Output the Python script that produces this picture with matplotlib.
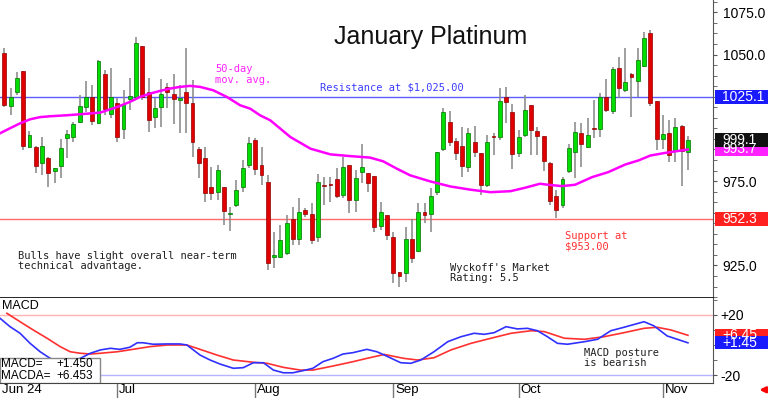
import matplotlib
matplotlib.use("Agg")
import matplotlib.pyplot as plt
import matplotlib.transforms as mtransforms
from matplotlib.patches import Rectangle
from matplotlib.ticker import MultipleLocator
import numpy as np

plt.rcParams['font.family'] = ['Liberation Sans', 'DejaVu Sans']

# daily candles, Jun 2024 -> early Nov 2024
opens = [1050.7, 1019.3, 1027.6, 1040.0, 995.0, 995.0, 985.5, 988.5, 980.8, 983.7,
         1000.3, 1001.0, 1009.8, 1018.7, 1024.6, 1009.2, 1038.3, 1014.6, 1021.1, 1005.7,
         1023.5, 1024.6, 1054.9, 1027.6, 1012.8, 1018.7, 1030.6, 1026.4, 1022.9, 1027.6,
         1021.1, 993.8, 988.5, 971.3, 968.3, 971.3, 955.3, 960.6, 971.3, 984.3,
         999.1, 984.3, 974.3, 929.8, 929.8, 932.2, 952.3, 940.5, 957.7, 955.3,
         941.7, 972.6, 973.2, 976.0, 966.5, 984.3, 963.6, 980.2, 979.6, 977.8,
         948.2, 954.7, 941.7, 920.9, 920.3, 940.5, 933.4, 956.5, 955.3, 968.3,
         993.8, 1009.8, 998.6, 995.6, 983.2, 998.0, 991.4, 972.5, 1001.4, 1001.0,
         1024.6, 1015.7, 991.4, 1002.1, 1019.9, 1004.5, 1001.5, 985.5, 966.0, 960.6,
         980.8, 992.0, 1003.3, 995.0, 1006.0, 1005.7, 1024.6, 1016.3, 1041.8, 1028.8,
         1038.3, 1034.2, 1043.0, 1062.6, 1022.3, 999.7, 1003.3, 992.6, 1007.4, 992.0]
highs = [1053.7, 1030.0, 1039.4, 1040.5, 1004.5, 995.5, 1001.0, 989.0, 983.0, 999.7,
         1005.0, 1009.8, 1025.8, 1034.1, 1031.7, 1046.6, 1040.6, 1041.8, 1024.0, 1028.8,
         1035.9, 1060.2, 1055.2, 1035.9, 1024.0, 1035.3, 1032.9, 1038.3, 1031.7, 1053.7,
         1034.7, 995.0, 995.0, 983.2, 984.3, 971.5, 959.4, 975.4, 987.3, 1000.9,
         1000.3, 995.0, 978.4, 944.6, 948.8, 954.7, 959.4, 964.8, 958.9, 961.8,
         979.0, 977.4, 977.4, 982.5, 989.3, 984.5, 981.4, 996.8, 979.8, 978.0,
         962.4, 954.9, 944.6, 921.0, 947.6, 952.3, 961.8, 961.8, 970.7, 992.3,
         1018.1, 1016.3, 1000.3, 1006.8, 1006.2, 1007.4, 991.5, 1002.5, 1003.3, 1030.0,
         1030.6, 1020.5, 1005.0, 1025.8, 1020.2, 1007.0, 1001.6, 986.3, 969.5, 977.4,
         996.8, 1010.0, 1009.2, 1012.2, 1022.9, 1027.1, 1035.3, 1042.6, 1048.3, 1053.7,
         1038.9, 1053.7, 1063.2, 1064.3, 1022.4, 1014.0, 1011.0, 1012.2, 1008.0, 1001.5]
lows = [1018.7, 1014.0, 1025.8, 993.2, 994.4, 979.6, 978.4, 971.3, 973.7, 976.6,
        988.5, 998.0, 1009.2, 1015.7, 1008.0, 1008.8, 1014.0, 1012.2, 998.0, 999.7,
        1016.9, 1022.9, 1022.9, 1003.9, 1006.3, 1006.9, 1018.1, 1008.6, 1003.3, 1003.3,
        989.0, 976.6, 962.4, 963.6, 963.6, 948.8, 945.5, 959.4, 968.3, 982.5,
        978.4, 972.5, 922.1, 923.3, 929.2, 931.0, 936.9, 936.9, 953.5, 937.5,
        938.7, 960.6, 962.4, 964.8, 964.8, 955.9, 956.5, 973.7, 968.3, 944.6,
        945.8, 939.9, 914.4, 912.0, 915.0, 926.3, 932.8, 950.0, 944.6, 966.5,
        992.6, 995.6, 987.3, 977.2, 980.2, 989.0, 966.5, 971.3, 990.3, 999.1,
        1009.2, 982.0, 989.0, 1001.0, 990.3, 990.3, 980.8, 960.6, 952.9, 958.8,
        979.6, 976.6, 983.2, 994.4, 1000.3, 1001.0, 1015.8, 1014.6, 1024.0, 1027.7,
        1012.8, 1024.6, 1042.6, 1019.3, 993.2, 993.8, 986.1, 986.1, 971.9, 981.4]
closes = [1019.9, 1024.6, 1035.9, 995.6, 1002.1, 983.7, 995.6, 979.6, 982.5, 994.4,
          1002.7, 1008.6, 1019.3, 1024.6, 1010.4, 1046.0, 1017.5, 1024.6, 1001.0, 1020.5,
          1025.2, 1056.6, 1024.6, 1011.0, 1018.1, 1026.4, 1027.6, 1023.5, 1024.0, 1021.1,
          998.0, 985.5, 967.7, 967.7, 981.4, 957.1, 956.1, 969.5, 982.5, 997.4,
          982.0, 978.4, 926.3, 931.0, 939.9, 949.9, 940.5, 956.5, 955.3, 939.9,
          974.3, 972.2, 972.8, 966.0, 983.2, 963.6, 976.6, 983.2, 973.7, 947.6,
          956.5, 942.8, 920.3, 918.6, 940.5, 929.2, 956.5, 954.7, 966.0, 992.0,
          1015.8, 998.0, 991.4, 983.7, 1003.3, 992.0, 972.5, 998.0, 1001.0, 1022.3,
          1021.7, 990.8, 1001.0, 1016.9, 1005.1, 1001.5, 986.7, 963.2, 957.7, 976.0,
          994.4, 1003.9, 996.8, 1002.1, 1005.6, 1024.6, 1016.9, 1041.2, 1030.0, 1033.5,
          1036.6, 1046.6, 1059.6, 1021.1, 999.7, 1002.7, 990.3, 1006.8, 992.6, 999.1]

# 50-day moving average (bar position, value)
ma_pos = [-0.7, 0.9, 2.5, 4.1, 5.7, 7.3, 10, 12.1, 15.3, 18, 20, 21.6, 23.2, 24.8,
          26.4, 28, 29.6, 31.2, 33.3, 35.5, 37.6, 39.2, 40.8, 42.4, 45.6, 48.8, 52,
          55.1, 58.3, 60.4, 62.6, 64.7, 67.9, 71.1, 74.3, 77.5, 80.7, 83, 85.4, 86.7,
          88.9, 91, 93.7, 96.3, 99, 101.1, 103, 105.4, 109]
ma_val = [1003.3, 1006.3, 1009.2, 1011.6, 1012.9, 1013.4, 1014.0, 1014.6, 1015.6,
          1018.9, 1021.9, 1024.8, 1026.8, 1028.4, 1029.8, 1030.8, 1031.4, 1030.8,
          1028.8, 1024.8, 1019.9, 1017.9, 1013.9, 1011.0, 1001.1, 994.2, 990.8, 989.8,
          988.9, 986.7, 982.3, 978.4, 974.8, 971.8, 969.9, 968.4, 969.0, 971.0, 973.4,
          972.8, 972.0, 972.8, 977.3, 980.3, 984.8, 987.2, 990.1, 991.7, 993.7]

# MACD (blue) and MACDA signal (red)
macd_pos = [-0.7, 0.9, 2.5, 4.1, 5.7, 7.3, 9.2, 12.1, 13.7, 15.3, 16.9, 18.4, 20,
            21.2, 22.1, 23.7, 26, 28, 29.1, 31.2, 32.8, 34.4, 36.5, 38.1, 39.7, 41.3,
            42.9, 44.5, 46, 47.6, 49.2, 50.8, 52.4, 54, 55.6, 57.8, 59.4, 60.6, 63.2,
            64.8, 66.4, 68.5, 70.7, 72.8, 74.9, 76.5, 78.1, 80, 81.8, 83.4, 85, 86.6,
            88.2, 89.8, 92.5, 94.6, 96.7, 98.8, 102, 103.6, 105.7, 107.3, 109]
macd_val = [17.8, 12.2, 7.8, 1.1, -4.5, -8.9, -11.3, -8.9, -5.5, -3.3, -2.2, -2.9, -1.5,
            1.5, 1.5, 0.5, 0.7, 0.7, 0.0, -6.7, -10.0, -12.7, -15.5, -15.1, -11.8, -11.8,
            -16.7, -18.5, -18.5, -17.1, -15.5, -11.1, -8.9, -6.0, -5.1, -2.9, -4.5, -6.7,
            -11.8, -12.2, -10.0, -4.5, 2.2, 5.5, 7.8, 7.1, 8.2, 12.2, 10.7, 11.1, 9.5,
            5.5, 1.1, 0.5, 2.2, 3.8, 9.5, 11.8, 15.5, 12.7, 6.0, 3.8, 1.45]
sig_pos = [0.4, 2.5, 4.6, 6.8, 8.9, 10.5, 12.1, 13.7, 15.3, 18, 20.5, 23.2, 26, 29.1,
           31.2, 33.9, 36.5, 39.7, 41.9, 44.5, 47.2, 49.2, 52.4, 55.6, 57.8, 60.6, 63.7,
           65.9, 68.5, 71.2, 74.4, 77.6, 80.8, 84, 86.1, 89.3, 92.5, 95.6, 98.8, 102,
           104.1, 106.3, 109]
sig_val = [21.1, 15.5, 10.0, 4.5, -1.1, -4.5, -5.5, -6.0, -5.5, -4.5, -2.9, -1.1, 0.0,
           0.0, -2.9, -6.7, -10.0, -11.5, -12.2, -14.9, -16.7, -16.7, -14.0, -11.1,
           -8.9, -6.3, -8.9, -10.0, -8.5, -3.3, 1.1, 4.5, 7.8, 9.5, 8.9, 4.5, 3.8, 5.5,
           8.2, 11.1, 11.8, 10.0, 6.45]

month_pos = [-0.7, 18, 40, 62, 82, 105]
month_labels = ["Jun 24", "Jul", "Aug", "Sep", "Oct", "Nov"]

resistance = 1025.0
support = 952.3
price_ticks = [925, 975, 1050, 1075]
macd_ticks = [20, -20]

mono = 'DejaVu Sans Mono'

fig = plt.figure(figsize=(7.68, 3.98), dpi=100)
ax = fig.add_axes([0, 0.2513, 0.9284, 0.7487])
ax2 = fig.add_axes([0, 0.0377, 0.9284, 0.2136], sharex=ax)

# --- price panel ---
x = np.arange(len(opens))
o = np.array(opens)
c = np.array(closes)
up = c >= o
face = np.where(up, '#00dd00', '#e00000')
edge = np.where(up, '#007000', '#900000')
ax.vlines(x, lows, highs, color='#858585', lw=1.1, zorder=2)
ax.bar(x, np.maximum(np.abs(c - o), 0.6), bottom=np.minimum(o, c), width=0.62,
       color=face, edgecolor=edge, linewidth=0.5, zorder=3)

ax.axhline(resistance, color='#5c5cff', lw=1, zorder=1)
ax.axhline(support, color='#ff6a6a', lw=1, zorder=1)
ax.plot(ma_pos, ma_val, color='#ff00ff', lw=1.8, zorder=4)

ax.set_xlim(-0.7, 113)
ax.set_ylim(905.7, 1082.3)

ax.text(67.9, 1060.2, 'January Platinum', ha='center', va='center', fontsize=18,
        color='#111111')
ax.text(50.3, 1030.7, 'Resistance at $1,025.00', color='#3c3cff', fontsize=7.5,
        family=mono, va='center')
ax.text(33.6, 1038.3, '50-day\nmov. avg.', color='#ff22ff', fontsize=7.5,
        family=mono, va='center', linespacing=1.1)
ax.text(89.4, 939.3, 'Support at\n$953.00', color='#ff3030', fontsize=7.5,
        family=mono, va='center', linespacing=1.1)
ax.text(2.2, 927.4, 'Bulls have slight overall near-term\ntechnical advantage.',
        color='#202020', fontsize=7.5, family=mono, va='center', linespacing=1.0)
ax.text(71.1, 920.3, "Wyckoff's Market\nRating: 5.5", color='#202020', fontsize=7.5,
        family=mono, va='center', linespacing=1.0)

for s in ['left', 'top']:
    ax.spines[s].set_visible(False)
ax.spines['right'].set_color('#555555')
ax.spines['bottom'].set_color('black')
ax.spines['bottom'].set_linewidth(1.2)
ax.yaxis.tick_right()
ax.set_yticks(price_ticks)
ax.set_yticklabels([f"{v:.1f}" for v in price_ticks], fontsize=10)
ax.yaxis.set_minor_locator(MultipleLocator(6.25))
ax.tick_params(axis='y', which='both', length=3, color='#555555', pad=4)
ax.tick_params(axis='x', which='both', bottom=False, labelbottom=False)


def tag(axis, val, text, fc, h):
    tr = mtransforms.blended_transform_factory(axis.transAxes, axis.transData)
    axis.add_patch(Rectangle((1.003, val - h / 2), 0.08, h, transform=tr,
                             facecolor=fc, edgecolor='none', clip_on=False, zorder=5))
    axis.text(1.013, val, text, transform=tr, color='white', fontsize=10,
              va='center', ha='left', zorder=6, clip_on=False)


tag(ax, 1025.1, '1025.1', '#1a1aff', 8.3)
tag(ax, 952.3, '952.3', '#ff2020', 8.3)
tag(ax, 993.7, '993.7', '#ff22ff', 8.3)
tag(ax, 999.1, '999.1', '#111111', 8.3)

# --- MACD panel ---
ax2.axhline(20, color='#ffb4b4', lw=1)
ax2.axhline(-20, color='#b4b4ff', lw=1)
ax2.plot(sig_pos, sig_val, color='#ff3030', lw=1.2)
ax2.plot(macd_pos, macd_val, color='#3030ff', lw=1.2)
ax2.set_ylim(-25.3, 31.3)

ax2.text(0.003, 0.906, 'MACD', transform=ax2.transAxes, fontsize=9, va='center')
ax2.add_patch(Rectangle((0, 0), 0.14, 0.294, transform=ax2.transAxes,
                        facecolor='white', edgecolor='#888888', lw=1, zorder=5))
ax2.text(0.002, 0.224, 'MACD=', transform=ax2.transAxes, fontsize=8.5, va='center', zorder=6)
ax2.text(0.1304, 0.224, '+1.450', transform=ax2.transAxes, fontsize=8.5, va='center',
         ha='right', zorder=6)
ax2.text(0.002, 0.082, 'MACDA=', transform=ax2.transAxes, fontsize=8.5, va='center', zorder=6)
ax2.text(0.1304, 0.082, '+6.453', transform=ax2.transAxes, fontsize=8.5, va='center',
         ha='right', zorder=6)
ax2.text(92.4, -8.7, 'MACD posture\nis bearish', color='#202020', fontsize=7.5,
         family=mono, va='center', linespacing=1.0)

for s in ['left', 'top']:
    ax2.spines[s].set_visible(False)
ax2.spines['right'].set_color('#555555')
ax2.spines['bottom'].set_color('#444444')
ax2.yaxis.tick_right()
ax2.set_yticks(macd_ticks)
ax2.set_yticklabels(['+20', '-20'], fontsize=10)
ax2.yaxis.set_minor_locator(MultipleLocator(10))
ax2.tick_params(axis='y', which='both', length=3, color='#555555', pad=2)

ax2.set_xticks(month_pos[1:])
ax2.set_xticklabels([''] * (len(month_pos) - 1))
ax2.tick_params(axis='x', direction='out', length=11, color='#777777', width=1)
tr2 = mtransforms.blended_transform_factory(ax2.transData, ax2.transAxes)
for p, lab in zip(month_pos, month_labels):
    ax2.text(p + 0.3, -0.085, lab, transform=tr2, fontsize=9.5, va='center', ha='left')

tag(ax2, 6.45, '+6.45', '#ff2020', 8.7)
tag(ax2, 1.45, '+1.45', '#1a1aff', 8.7)

ax2.annotate('', xy=(1.061, -0.08), xytext=(1.078, -0.08), xycoords='axes fraction',
             arrowprops=dict(arrowstyle='-|>', color='red', lw=2, mutation_scale=8),
             annotation_clip=False)

fig.savefig('out.png', dpi=100)
